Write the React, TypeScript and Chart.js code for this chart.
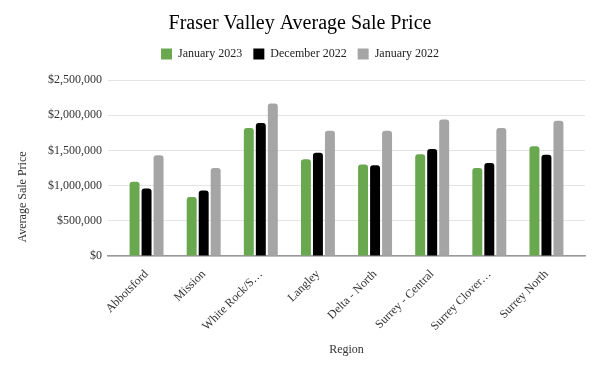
import React, { useEffect, useRef } from "react";
import { Chart, registerables } from "chart.js";
Chart.register(...registerables);

const categories = ["Abbotsford", "Mission", "White Rock/S…", "Langley", "Delta - North", "Surrey - Central", "Surrey Clover…", "Surrey North"];
const jan2023 = [1057000, 840000, 1820000, 1376000, 1300000, 1447000, 1250000, 1560000];
const dec2022 = [960000, 930000, 1890000, 1467000, 1290000, 1520000, 1320000, 1440000];
const jan2022 = [1430000, 1250000, 2167000, 1780000, 1780000, 1940000, 1820000, 1920000];
const seriesNames = ["January 2023", "December 2022", "January 2022"];
const yTicks = [0, 500000, 1000000, 1500000, 2000000, 2500000];
const yTitle = "Average Sale Price";

const FONT = "'Liberation Serif', 'Times New Roman', serif";

const legendSpacing = {
  id: "legendSpacing",
  beforeInit(chart: any) {
    const lg = chart.legend;
    if (!lg) return;
    const orig = lg.fit;
    lg.fit = function () {
      orig.call(this);
      this.height += 10;
    };
  },
};

const yTitlePlugin = {
  id: "yTitlePlugin",
  afterDraw(chart: any) {
    const c = chart.ctx;
    c.save();
    c.translate(23, 197);
    c.rotate(-Math.PI / 2);
    c.font = `12px ${FONT}`;
    c.fillStyle = "#333";
    c.textAlign = "center";
    c.textBaseline = "middle";
    c.fillText(yTitle, 0, 0);
    c.restore();
  },
};

export default function App() {
  const ref = useRef<HTMLCanvasElement>(null);
  useEffect(() => {
    const ctx = ref.current!;
    const mk = (label: string, data: number[], color: string) => ({
      label, data, backgroundColor: color, borderRadius: { topLeft: 3, topRight: 3 }, borderSkipped: "bottom" as const,
      categoryPercentage: 0.63, barPercentage: 0.83,
    });
    const chart = new Chart(ctx, {
      type: "bar",
      data: {
        labels: categories,
        datasets: [
          mk(seriesNames[0], jan2023, "#6aa84f"),
          mk(seriesNames[1], dec2022, "#000000"),
          mk(seriesNames[2], jan2022, "#a5a5a5"),
        ],
      },
      plugins: [legendSpacing, yTitlePlugin],
      options: {
        animation: false,
        responsive: false,
        layout: { padding: { top: 12, right: 15, left: 15, bottom: 9 } },
        plugins: {
          title: { display: true, text: "Fraser Valley Average Sale Price", color: "#000", font: { family: FONT, size: 20, weight: "normal" }, padding: { top: 0, bottom: 1 } },
          legend: {
            labels: { boxWidth: 11, boxHeight: 11, color: "#222", font: { family: FONT, size: 12 }, padding: 11 },
          },
          tooltip: { enabled: false },
        },
        scales: {
          x: {
            afterBuildTicks: (axis: any) => {
              const e = 0.175;
              axis._startValue = -0.5 - e;
              axis._valueRange = categories.length + 2 * e;
            },
            grid: { display: false },
            border: { color: "#999", width: 1.5 },
            ticks: { color: "#333", font: { family: FONT, size: 12 }, maxRotation: 45, minRotation: 45, autoSkip: false },
            title: { display: true, text: "Region", color: "#333", font: { family: FONT, size: 12 }, padding: { top: 6 } },
          },
          y: {
            min: 0, max: 2500000,
            afterBuildTicks: (axis: any) => { axis.ticks = yTicks.map((v) => ({ value: v })); },
            afterFit: (axis: any) => { axis.width = 93; },
            grid: { color: "#e3e3e3", drawTicks: false },
            border: { display: false },
            ticks: {
              color: "#333", font: { family: FONT, size: 12 }, padding: 6,
              callback: (v: any) => "$" + Number(v).toLocaleString("en-US"),
            },
          },
        },
      },
    });
    return () => chart.destroy();
  }, []);
  return (
    <div style={{ position: "fixed", left: 0, top: 0, width: 600, height: 370, background: "#fff" }}>
      <canvas ref={ref} width={600} height={370} style={{ width: 600, height: 370 }} />
    </div>
  );
}
